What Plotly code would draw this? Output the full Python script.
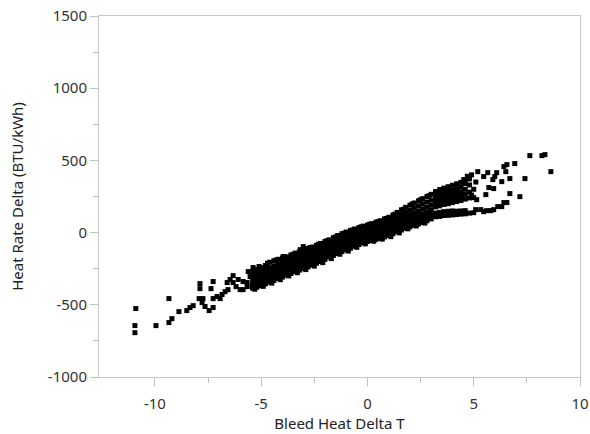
import plotly.graph_objects as go

# Axis ticks
x_tickvals = [-10, -5, 0, 5, 10]
x_ticktext = ["-10", "-5", "0", "5", "10"]
y_tickvals = [-1000, -500, 0, 500, 1000, 1500]
y_ticktext = ["-1000", "-500", "0", "500", "1000", "1500"]

# Sparse points at the low (left) end
left_x = [-10.9, -10.94, -10.94, -9.95, -9.34, -9.34, -9.2, -8.87, -8.5, -8.35, -8.2,
          -7.88, -7.88, -7.92, -7.74, -7.78, -7.64, -7.45, -7.26, -7.36, -7.26, -7.26,
          -7.08, -6.93, -6.84, -6.7, -6.6, -6.56, -6.46, -6.32, -6.32, -6.18, -6.08,
          -5.99, -5.85, -5.61, -5.66, -5.52, -5.42, -5.28, -5.38, -3.96, -3.02, -3.16,
          -5.66, -5.85, -2.12]
left_y = [-526, -644, -693, -644, -457, -623, -596, -547, -540, -519, -506,
          -353, -388, -457, -457, -485, -512, -540, -519, -388, -339, -457,
          -443, -457, -429, -409, -346, -395, -325, -298, -346, -374, -325,
          -395, -395, -270, -346, -305, -374, -312, -242, -166, -97, -118,
          -374, -339, -187]

# Dense main band, read column by column
band_x = (
    [-5.4] * 6 + [-5.2] * 6 + [-5.0] * 6 + [-4.8] * 6 + [-4.6] * 6 + [-4.4] * 6 +
    [-4.2] * 6 + [-4.0] * 6 + [-3.8] * 6 + [-3.6] * 6 + [-3.4] * 6 + [-3.2] * 6 +
    [-3.0] * 6 + [-2.8] * 6 + [-2.6] * 6 + [-2.4] * 6 + [-2.2] * 6 + [-2.0] * 6 +
    [-1.8] * 6 + [-1.6] * 6 + [-1.4] * 6 + [-1.2] * 6 + [-1.0] * 6 + [-0.8] * 6 +
    [-0.6] * 6 + [-0.4] * 6 + [-0.2] * 6 + [0.0] * 6 + [0.2] * 6 + [0.4] * 6 +
    [0.6] * 6 + [0.8] * 6 + [1.0] * 6 + [1.2] * 6 + [1.4] * 6 + [1.6] * 6 +
    [1.8] * 6 + [2.0] * 6 + [2.2] * 6 + [2.4] * 6 + [2.6] * 6 + [2.8] * 6 +
    [3.0] * 6
)
band_y = [
    -385, -360, -335, -310, -290, -268,
    -378, -350, -325, -300, -278, -255,
    -368, -342, -318, -292, -266, -242,
    -355, -330, -305, -280, -255, -228,
    -343, -318, -292, -268, -243, -205,
    -332, -305, -280, -255, -230, -195,
    -318, -293, -268, -243, -218, -185,
    -308, -282, -258, -232, -205, -175,
    -295, -270, -245, -220, -193, -168,
    -283, -258, -233, -208, -182, -155,
    -270, -246, -221, -196, -170, -142,
    -260, -235, -210, -185, -158, -132,
    -250, -225, -200, -172, -148, -120,
    -238, -213, -188, -162, -136, -110,
    -225, -200, -175, -150, -125, -100,
    -212, -188, -163, -138, -113, -88,
    -200, -175, -150, -125, -100, -75,
    -185, -160, -135, -110, -85, -62,
    -170, -146, -121, -97, -73, -50,
    -158, -133, -108, -83, -58, -35,
    -145, -120, -95, -70, -45, -20,
    -132, -108, -83, -58, -33, -8,
    -120, -96, -71, -46, -21, 4,
    -108, -84, -60, -35, -10, 15,
    -95, -72, -48, -24, 0, 25,
    -83, -60, -36, -12, 12, 35,
    -72, -48, -24, 0, 22, 45,
    -62, -38, -14, 10, 32, 52,
    -55, -30, -5, 18, 40, 62,
    -47, -22, 3, 27, 50, 72,
    -40, -14, 12, 36, 60, 82,
    -30, -4, 22, 47, 72, 95,
    -20, 6, 32, 58, 82, 106,
    -8, 18, 44, 70, 96, 122,
    5, 31, 57, 83, 110, 140,
    18, 44, 70, 97, 125, 158,
    30, 56, 83, 110, 140, 175,
    40, 67, 95, 124, 155, 190,
    50, 78, 107, 137, 170, 205,
    60, 89, 119, 150, 185, 220,
    70, 100, 130, 163, 198, 235,
    82, 112, 143, 176, 212, 250,
    95, 125, 157, 190, 225, 265,
]

# Ragged edge points around the band
edge_x = [-5.1, -4.7, -4.3, -3.9, -3.5, -3.1, -2.7, -2.3, -1.9, -1.5, -1.1, -0.7,
          -0.3, 0.1, 0.5, 0.9, 1.3, 1.7, 2.1, 2.5, 2.9,
          -5.3, -4.9, -4.5, -4.1, -3.7, -3.3, -2.9, -2.5, -2.1, -1.7, -1.3, -0.9,
          -0.5, -0.1, 0.3, 0.7, 1.1, 1.5, 1.9, 2.3, 2.7]
edge_y = [-235, -212, -190, -168, -150, -128, -103, -80, -56, -30, -4, 18,
          40, 58, 76, 98, 128, 162, 198, 228, 256,
          -392, -372, -350, -326, -300, -278, -256, -232, -208, -180, -150, -128,
          -102, -78, -60, -45, -28, -2, 26, 46, 66]

# Upper branch beyond the split
upper_x = ([3.2] * 5 + [3.4] * 5 + [3.6] * 5 + [3.8] * 5 + [4.0] * 5 +
           [4.2] * 5 + [4.4] * 5 + [4.6] * 5 + [4.8] * 4 +
           [4.53, 4.7, 4.9, 5.0, 5.1, 4.9])
upper_y = [178, 205, 232, 258, 284,
           185, 212, 240, 268, 298,
           195, 222, 250, 280, 308,
           200, 228, 258, 288, 318,
           208, 236, 265, 296, 328,
           215, 243, 273, 305, 338,
           222, 250, 282, 315, 348,
           232, 265, 300, 340, 365,
           240, 280, 330, 372,
           367, 390, 400, 300, 350, 260]

# Lower branch
lower_x = [3.2, 3.2, 3.4, 3.4, 3.6, 3.6, 3.8, 3.8, 4.0, 4.0, 4.2, 4.2, 4.4, 4.4,
           4.6, 4.6, 4.8, 5.0, 5.09, 5.33, 5.47, 5.61, 5.8, 5.94, 6.13, 6.32, 6.42, 6.56]
lower_y = [110, 135, 112, 140, 118, 145, 120, 148, 122, 150, 125, 148, 128, 150,
           130, 152, 135, 138, 159, 159, 145, 152, 152, 159, 180, 180, 208, 208]

# Sparse points at the high (right) end
right_x = [5.0, 5.14, 5.19, 5.47, 5.66, 5.57, 5.71, 5.94, 5.9, 5.99, 6.08, 6.32,
           6.51, 6.42, 6.56, 6.7, 6.7, 6.93, 7.17, 7.41, 7.64, 8.21, 8.35, 8.63]
right_y = [242, 228, 422, 388, 415, 263, 312, 305, 367, 388, 415, 353,
           422, 457, 471, 374, 270, 478, 249, 374, 533, 533, 540, 422]

x_vals = left_x + band_x + edge_x + upper_x + lower_x + right_x
y_vals = left_y + band_y + edge_y + upper_y + lower_y + right_y

fig = go.Figure(go.Scatter(
    x=x_vals, y=y_vals, mode="markers",
    marker=dict(symbol="square", size=5, color="black", line=dict(width=0)),
    hoverinfo="skip", showlegend=False,
))

axis_common = dict(
    showline=True, mirror=True, linecolor="#c8c8c8", linewidth=1,
    ticks="outside", tickcolor="#c0c0c0", ticklen=8, tickwidth=1,
    showgrid=False, zeroline=False, automargin=False,
    tickfont=dict(family="Noto Sans", size=15, color="#333333"),
)

fig.update_layout(
    width=590, height=434,
    margin=dict(l=99, r=10, t=16, b=57, autoexpand=False),
    paper_bgcolor="white", plot_bgcolor="white",
    font=dict(family="Noto Sans", size=15, color="#333333"),
    xaxis=dict(
        range=[-12.63, 10], tickmode="array", tickvals=x_tickvals, ticktext=x_ticktext,
        minor=dict(ticks="outside", ticklen=5, tickvals=[-7.5, -2.5, 2.5, 7.5], tickcolor="#c0c0c0"),
        ticklabelstandoff=5,
        title=dict(text="Bleed Heat Delta T", font=dict(size=15, color="#222222"), standoff=6),
        **axis_common,
    ),
    yaxis=dict(
        range=[-1000, 1500], tickmode="array", tickvals=y_tickvals, ticktext=y_ticktext,
        minor=dict(ticks="outside", ticklen=5, tickvals=[-750, -250, 250, 750, 1250], tickcolor="#c0c0c0"),
        title=dict(text="Heat Rate Delta (BTU/kWh)", font=dict(size=15, color="#222222"), standoff=20),
        **axis_common,
    ),
)

fig.write_html("out.html", config={"displayModeBar": False},
               post_script="document.body.style.margin='0';")
